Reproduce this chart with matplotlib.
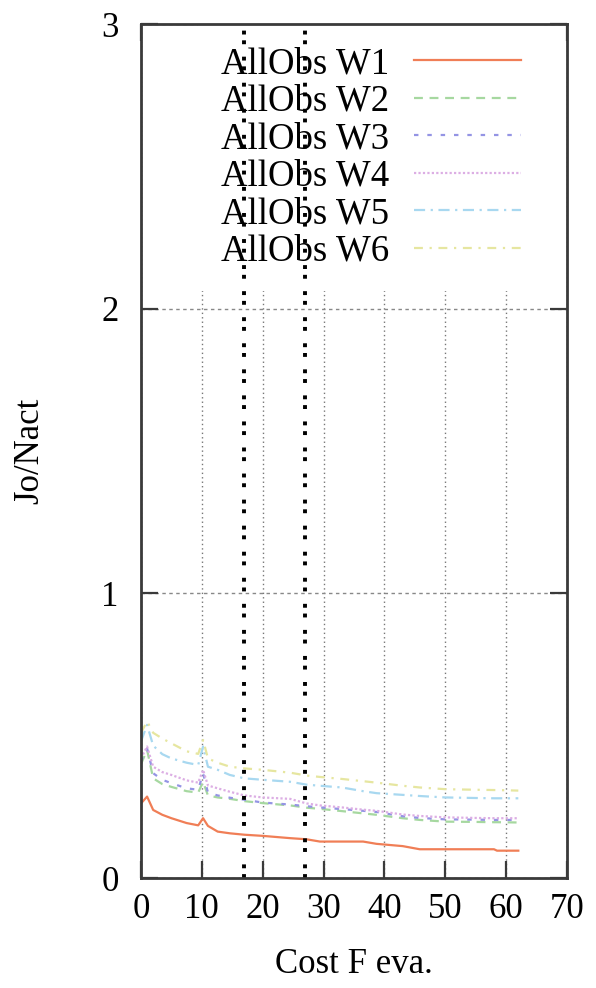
import matplotlib
matplotlib.use("Agg")
import matplotlib.pyplot as plt

plt.rcParams['font.family'] = ['Liberation Serif', 'DejaVu Serif']

# ---- data -------------------------------------------------------------
x = [0, 1, 2, 3.5, 5, 7.5, 9.4, 10.2, 11, 12.6, 14.6, 17, 20, 24.5, 27.2,
     29.4, 33, 36.5, 38.7, 43, 45.8, 50, 55, 58, 58.5, 62]

w1 = [0.262, 0.286, 0.239, 0.222, 0.210, 0.193, 0.185, 0.210, 0.183, 0.163,
      0.157, 0.152, 0.148, 0.140, 0.136, 0.128, 0.128, 0.128, 0.120, 0.112,
      0.101, 0.101, 0.101, 0.101, 0.096, 0.096]
w2 = [0.400, 0.450, 0.350, 0.330, 0.320, 0.305, 0.300, 0.338, 0.290, 0.283,
      0.278, 0.270, 0.263, 0.255, 0.247, 0.243, 0.235, 0.227, 0.222, 0.210,
      0.204, 0.198, 0.197, 0.196, 0.196, 0.195]
w3 = [0.410, 0.455, 0.368, 0.345, 0.333, 0.315, 0.310, 0.368, 0.300, 0.290,
      0.282, 0.275, 0.265, 0.258, 0.252, 0.248, 0.242, 0.236, 0.232, 0.217,
      0.211, 0.206, 0.205, 0.204, 0.204, 0.204]
w4 = [0.420, 0.462, 0.391, 0.372, 0.362, 0.343, 0.335, 0.380, 0.325, 0.315,
      0.303, 0.290, 0.283, 0.278, 0.262, 0.255, 0.248, 0.240, 0.236, 0.223,
      0.218, 0.213, 0.211, 0.210, 0.210, 0.210]
w5 = [0.480, 0.538, 0.465, 0.435, 0.420, 0.405, 0.397, 0.462, 0.391, 0.380,
      0.362, 0.350, 0.345, 0.338, 0.328, 0.324, 0.318, 0.305, 0.298, 0.292,
      0.288, 0.283, 0.281, 0.280, 0.280, 0.280]
w6 = [0.510, 0.550, 0.510, 0.490, 0.473, 0.445, 0.436, 0.485, 0.420, 0.405,
      0.391, 0.385, 0.380, 0.370, 0.360, 0.355, 0.348, 0.340, 0.335, 0.324,
      0.318, 0.312, 0.310, 0.309, 0.309, 0.307]

labels = ["AllObs W1", "AllObs W2", "AllObs W3", "AllObs W4", "AllObs W5", "AllObs W6"]
series = [w1, w2, w3, w4, w5, w6]
window_x = [16.9, 27.0]

x_ticks = [0, 10, 20, 30, 40, 50, 60, 70]
y_ticks = [0, 1, 2, 3]

# ---- styles -----------------------------------------------------------
colors = ['#f07e56', '#a6d8a0', '#9494e4', '#dcaee4', '#a8d8f0', '#e6e6a0']
styles = ['-', (0, (4, 3)), (0, (2, 4)), (0, (1, 1)), (0, (5, 2.5, 1, 2.5)),
          (0, (4, 3, 1, 3))]

fig = plt.figure(figsize=(5.96, 9.88), dpi=100)
ax = fig.add_axes([141/596, 1 - 878/988, 426/596, 854/988])

for ys, lab, c, ls in zip(series, labels, colors, styles):
    ax.plot(x, ys, color=c, linestyle=ls, linewidth=1.6, label=lab, zorder=3)

for wx in window_x:
    ax.axvline(wx, color='black', linewidth=2.8,
               linestyle=(0, (1, 1.5, 1, 3.2)), zorder=7)

ax.set_xlim(0, 70)
ax.set_ylim(0, 3)
ax.set_xticks(x_ticks)
ax.set_yticks(y_ticks)

ax.grid(axis='x', color='#777777', linestyle=(0, (1, 2.2)), linewidth=1.0, zorder=1)
ax.grid(axis='y', color='#888888', linestyle=(0, (2.5, 2.5)), linewidth=1.0, zorder=1)
ax.set_axisbelow(True)

for s in ax.spines.values():
    s.set_linewidth(2.0)
    s.set_color('#3a3a3a')
    s.set_zorder(8)

ax.tick_params(direction='in', length=12, width=1.6, color='#3a3a3a',
               top=True, right=True, labelsize=25, labelcolor='black')
ax.tick_params(axis='x', pad=11)
ax.tick_params(axis='y', pad=16)

ax.set_xlabel("Cost F eva.", fontsize=25)
ax.set_ylabel("Jo/Nact", fontsize=25)
ax.xaxis.set_label_coords(0.5, -0.082)
ax.yaxis.set_label_coords(-0.222, 0.5)

leg = ax.legend(loc='upper right', bbox_to_anchor=(0.945, 1.0), fontsize=26.5,
                markerfirst=False, frameon=True, fancybox=False,
                framealpha=1.0, facecolor='white', edgecolor='none',
                handlelength=2.9, handletextpad=0.68, labelspacing=0.08,
                borderpad=0.62, borderaxespad=0.0)
leg.set_zorder(5)

fig.savefig("out.png", dpi=100)
